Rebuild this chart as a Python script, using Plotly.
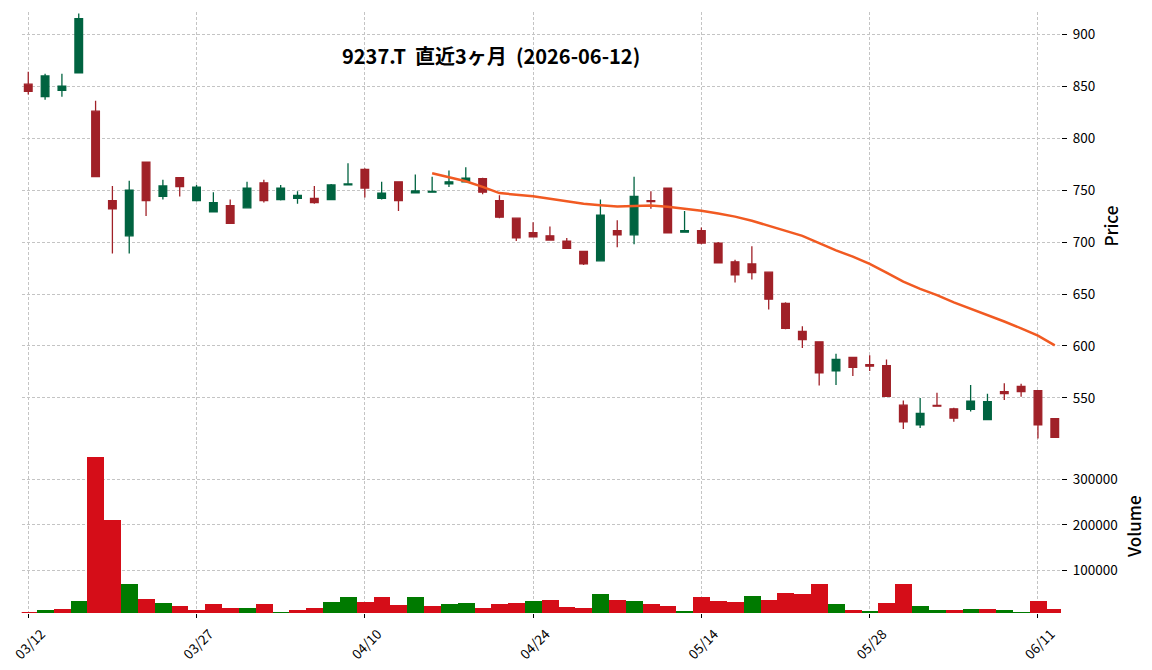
import plotly.graph_objects as go

# ---------------- data ----------------
dates = ["03/12", "03/13", "03/16", "03/17", "03/18", "03/19", "03/23", "03/24", "03/25", "03/26",
         "03/27", "03/30", "03/31", "04/01", "04/02", "04/03", "04/06", "04/07", "04/08", "04/09",
         "04/10", "04/13", "04/14", "04/15", "04/16", "04/17", "04/20", "04/21", "04/22", "04/23",
         "04/24", "04/27", "04/28", "04/30", "05/01", "05/07", "05/08", "05/11", "05/12", "05/13",
         "05/14", "05/15", "05/18", "05/19", "05/20", "05/21", "05/22", "05/25", "05/26", "05/27",
         "05/28", "05/29", "06/01", "06/02", "06/03", "06/04", "06/05", "06/08", "06/09", "06/10",
         "06/11", "06/12"]

opens = [852, 840, 846, 863, 826, 740, 706, 777, 744, 762,
         740, 729, 735, 733, 757, 741, 742, 742, 741, 755,
         770, 742, 758, 747.5, 748, 756, 758, 761, 740, 723,
         709, 706, 701, 691, 682, 711, 707, 740, 752, 709.5,
         711, 699, 681, 679, 671, 641, 614, 604, 576, 589,
         582, 581, 543, 524, 542.7, 539.5, 539, 529, 556, 561,
         557, 530]
highs = [864, 862, 862, 920, 836, 754, 759, 777, 760, 762,
         755, 748, 741, 758, 760, 755, 749, 754, 756, 776,
         771, 758, 758, 765, 763, 769, 772, 762, 745, 723,
         719, 715, 704, 691, 741, 721, 763, 749, 752, 730,
         714, 700, 683, 696, 671, 642, 619, 604, 592.5, 589.5,
         591, 587, 547.5, 550, 555, 540.5, 562.5, 554, 564, 563.5,
         557, 530]
lows = [842, 837, 840, 863, 763, 689, 689, 725, 741, 744,
        739, 729, 718, 733, 738, 740, 737, 737, 741, 755,
        743, 741, 730, 747, 748, 753, 758, 746, 723, 701,
        705, 702, 694, 678, 682, 695, 698, 732, 709, 709.5,
        698, 680, 661, 664, 635, 616, 598, 562, 562.5, 571,
        576, 551.5, 520, 521, 541.5, 527, 537, 529, 548, 551,
        511, 512]
closes = [845, 860, 850, 915, 763, 732, 750, 740, 754, 753.5,
          753, 738, 718, 752, 740, 752, 745, 738, 755, 756,
          752, 747, 740, 749.2, 748.8, 758, 761.5, 748, 724, 704,
          705, 702, 694, 679, 726, 707, 744, 739, 709, 711,
          699, 680, 668.5, 670.5, 645, 617, 606, 574, 587, 579.3,
          580.5, 551.6, 527, 535, 542, 530.5, 546.8, 546.3, 554.2, 556.1,
          524, 512]
volumes = [9100, 12700, 15000, 32500, 349800, 210500, 69900, 36900, 28100, 21500,
           12700, 26000, 17100, 17100, 26000, 8400, 12700, 17100, 30300, 41300,
           30300, 41300, 23700, 41300, 21500, 26000, 28100, 17100, 26000, 28100,
           32500, 34700, 19300, 17100, 47900, 34700, 32500, 26000, 21500, 10600,
           41300, 32500, 30300, 43600, 34700, 50100, 47900, 69900, 26000, 12700,
           10500, 28100, 69900, 21500, 12700, 12700, 14900, 14900, 12700, 8400,
           32500, 14900]
ma25 = [None] * 24 + [766.2, 762.4, 758.5, 753.2, 747.2, 745.6, 744.2, 741.8, 739.5, 737.0,
                      735.5, 734.3, 734.8, 735.3, 734.0, 732.2, 730.2, 727.5, 724.5, 720.5,
                      715.5, 711.0, 706.0, 699.0, 692.0, 686.0, 679.0, 670.5, 662.0, 655.0,
                      649.0, 642.0, 636.0, 629.5, 623.5, 617.0, 610.0, 600.5]
price_ticks = [550, 600, 650, 700, 750, 800, 850, 900]
volume_ticks = [100000, 200000, 300000]
tick_step = 10
title_text = "9237.T\u00a0\u00a0直近3ヶ月\u00a0\u00a0(2026-06-12)"

# ---------------- figure ----------------
W, H = 1152, 670
UP, DOWN = "#006340", "#a02128"
VUP, VDOWN = "#007a00", "#d50d18"
MA_COLOR = "#f15a22"
FONT = "Noto Sans CJK JP"

idx = list(range(len(dates)))
vol_colors = []
for i in idx:
    ref = opens[i] if i == 0 else closes[i - 1]
    vol_colors.append(VUP if closes[i] > ref else VDOWN)


def fx(p):
    return p / W


def fy(p):
    return 1 - p / H


fig = go.Figure()
fig.add_trace(go.Candlestick(
    x=idx, open=opens, high=highs, low=lows, close=closes,
    xaxis="x2", yaxis="y",
    increasing=dict(line=dict(color=UP, width=1.3), fillcolor=UP),
    decreasing=dict(line=dict(color=DOWN, width=1.3), fillcolor=DOWN),
    whiskerwidth=0, showlegend=False, hoverinfo="skip"))
fig.add_trace(go.Scatter(
    x=idx, y=ma25, mode="lines", line=dict(color=MA_COLOR, width=2.5),
    xaxis="x2", yaxis="y", showlegend=False, hoverinfo="skip"))
fig.add_trace(go.Bar(
    x=idx, y=volumes, width=1.0, marker=dict(color=vol_colors, line=dict(width=0)),
    xaxis="x", yaxis="y2", showlegend=False, hoverinfo="skip"))

xdom = [fx(21.7), fx(1061)]
xr = [-0.39, 61.37]
grid = dict(showgrid=True, gridcolor="#c4c4c4", gridwidth=0.8, griddash="3px,2px",
            zeroline=False, showline=False, automargin=False)
tickfont = dict(family=FONT, size=13.5, color="#000000")

fig.update_layout(
    width=W, height=H, margin=dict(l=0, r=0, t=0, b=0, autoexpand=False),
    paper_bgcolor="white", plot_bgcolor="white", boxgap=0.35, bargap=0,
    xaxis=dict(domain=xdom, range=xr, anchor="y2",
               tickvals=idx[::tick_step], ticktext=dates[::tick_step],
               tickangle=-45, ticks="outside", ticklen=4, tickcolor="#000000", tickwidth=1,
               tickfont=tickfont, ticklabelshift=13, ticklabelstandoff=3, **grid),
    xaxis2=dict(domain=xdom, range=xr, anchor="y", matches="x",
                tickvals=idx[::tick_step], showticklabels=False, ticks="",
                rangeslider=dict(visible=False), **grid),
    yaxis=dict(domain=[fy(441), fy(12)], range=[508.5, 921.5], side="right", anchor="x2",
               tickvals=price_ticks, ticks="outside", ticklen=5, tickcolor="#000000",
               tickfont=tickfont, ticklabelstandoff=3, **grid),
    yaxis2=dict(domain=[fy(613), fy(441)], range=[6000, 384500], side="right", anchor="x",
                tickvals=volume_ticks, tickformat="d", ticks="outside", ticklen=5,
                tickcolor="#000000", tickfont=tickfont, ticklabelstandoff=3, **grid),
    annotations=[
        dict(text=title_text, x=fx(491), y=fy(55), xref="paper", yref="paper",
             xanchor="center", yanchor="middle", showarrow=False,
             font=dict(family=FONT, size=20, color="#000000", weight=700)),
        dict(text="Price", x=fx(1110), y=fy(226.5), xref="paper", yref="paper", textangle=-90,
             xanchor="center", yanchor="middle", showarrow=False,
             font=dict(family=FONT, size=17, color="#000000", weight=500)),
        dict(text="Volume", x=fx(1133), y=fy(527), xref="paper", yref="paper", textangle=-90,
             xanchor="center", yanchor="middle", showarrow=False,
             font=dict(family=FONT, size=17, color="#000000", weight=500)),
    ],
)

fig.write_html("out.html")
